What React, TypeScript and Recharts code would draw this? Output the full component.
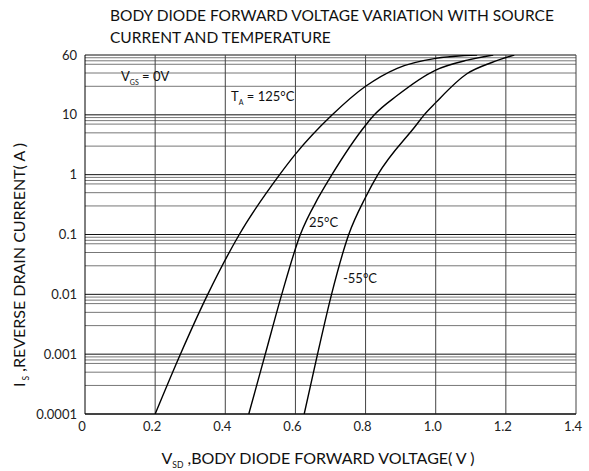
import React from 'react';
import { LineChart, Line, XAxis, YAxis, ReferenceLine } from 'recharts';

// axis ticks (top of the chart is drawn at 100 on the log scale but labelled 60)
const xTicks = [0, 0.2, 0.4, 0.6, 0.8, 1.0, 1.2, 1.4];
const xTickLabels = ['0', '0.2', '0.4', '0.6', '0.8', '1.0', '1.2', '1.4'];
const yTicks = [0.0001, 0.001, 0.01, 0.1, 1, 10, 100];
const yTickLabels = ['0.0001', '0.001', '0.01', '0.1', '1', '10', '60'];
const decades = [0.0001, 0.001, 0.01, 0.1, 1, 10];
const minorSteps = [3, 5, 7, 8, 9];

// T = 125°C
const vsd125 = [0.2, 0.272, 0.35, 0.44, 0.555, 0.6, 0.705, 0.8, 0.89, 1.0, 1.118];
const is125 = [0.0001, 0.001, 0.01, 0.1, 1, 2.2, 10, 30, 60, 88, 100];
// T = 25°C
const vsd25 = [0.467, 0.514, 0.561, 0.614, 0.666, 0.704, 0.8, 0.825, 0.89, 1.0, 1.09, 1.164];
const is25 = [0.0001, 0.001, 0.01, 0.1, 0.42, 1, 6.7, 10, 21, 56, 82, 100];
// T = -55°C
const vsd55 = [0.625, 0.663, 0.703, 0.752, 0.8, 0.835, 0.944, 0.967, 1.0, 1.09, 1.16, 1.224];
const is55 = [0.0001, 0.001, 0.01, 0.1, 0.42, 1, 6.7, 10, 16, 49, 75, 100];

const toPoints = (v: number[], i: number[]) => v.map((x, k) => ({ v: x, i: i[k] }));

const font = 'Lato, "Open Sans", sans-serif';

const App: React.FC = () => {
  const minorLines = decades.flatMap((d) => minorSteps.map((m) => d * m));

  return (
    <div style={{ position: 'absolute', left: 0, top: 0, width: 589, height: 471, background: '#fff', fontFamily: font }}>
      <div style={{ position: 'absolute', left: 110, top: 4, fontSize: 15.5, lineHeight: '22px', color: '#111', whiteSpace: 'nowrap' }}>
        BODY DIODE FORWARD VOLTAGE VARIATION WITH SOURCE
        <br />
        CURRENT AND TEMPERATURE
      </div>

      <LineChart
        width={589}
        height={471}
        margin={{ top: 55, right: 13, left: 25, bottom: 27 }}
      >
        {minorLines.map((y) => (
          <ReferenceLine key={'m' + y} y={y} stroke="#777" strokeWidth={1} />
        ))}
        {yTicks.map((y) => (
          <ReferenceLine key={'d' + y} y={y} stroke="#111" strokeWidth={1} />
        ))}
        {xTicks.slice(1).map((x) => (
          <ReferenceLine key={'v' + x} x={x} stroke="#444" strokeWidth={1} />
        ))}
        <XAxis
          type="number"
          dataKey="v"
          domain={[0, 1.4]}
          ticks={xTicks}
          tickFormatter={(v: number) => xTickLabels[xTicks.indexOf(v)] ?? String(v)}
          tickLine={false}
          axisLine={{ stroke: '#000' }}
          tick={{ fill: '#222', fontSize: 13, fontFamily: font, dx: -3 }}
          height={30}
          allowDataOverflow
        />
        <YAxis
          type="number"
          dataKey="i"
          scale="log"
          domain={[0.0001, 100]}
          ticks={yTicks}
          tickFormatter={(v: number) => yTickLabels[yTicks.indexOf(v)] ?? String(v)}
          tickLine={false}
          axisLine={{ stroke: '#000' }}
          tick={{ fill: '#222', fontSize: 13, fontFamily: font }}
          width={60}
          allowDataOverflow
        />
        <Line data={toPoints(vsd125, is125)} dataKey="i" type="monotone" stroke="#000" strokeWidth={1.4} dot={false} isAnimationActive={false} />
        <Line data={toPoints(vsd25, is25)} dataKey="i" type="monotone" stroke="#000" strokeWidth={1.4} dot={false} isAnimationActive={false} />
        <Line data={toPoints(vsd55, is55)} dataKey="i" type="monotone" stroke="#000" strokeWidth={1.4} dot={false} isAnimationActive={false} />
      </LineChart>

      {/* annotations */}
      <div style={{ position: 'absolute', left: 121, top: 68, fontSize: 13, color: '#111', whiteSpace: 'nowrap' }}>
        V<sub style={{ fontSize: 7 }}>GS</sub> = 0V
      </div>
      <div style={{ position: 'absolute', left: 231, top: 88, fontSize: 13, color: '#111', whiteSpace: 'nowrap' }}>
        T<sub style={{ fontSize: 7 }}>A</sub> = 125°C
      </div>
      <div style={{ position: 'absolute', left: 309, top: 214, fontSize: 13, color: '#111' }}>25°C</div>
      <div style={{ position: 'absolute', left: 343, top: 270, fontSize: 13, color: '#111' }}>-55°C</div>

      <div style={{ position: 'absolute', left: 0, top: 448, width: 636, textAlign: 'center', fontSize: 16, lineHeight: '20px', color: '#111', whiteSpace: 'nowrap' }}>
        V<sub style={{ fontSize: 8.5 }}>SD</sub> ,BODY DIODE FORWARD VOLTAGE( V )
      </div>
      <div
        style={{
          position: 'absolute',
          left: 20,
          top: 265,
          transform: 'translate(-50%, -50%) rotate(-90deg)',
          whiteSpace: 'nowrap',
          fontSize: 16,
          color: '#111',
        }}
      >
        I<sub style={{ fontSize: 8.5 }}> S</sub> ,REVERSE DRAIN CURRENT( A )
      </div>
    </div>
  );
};

export default App;
